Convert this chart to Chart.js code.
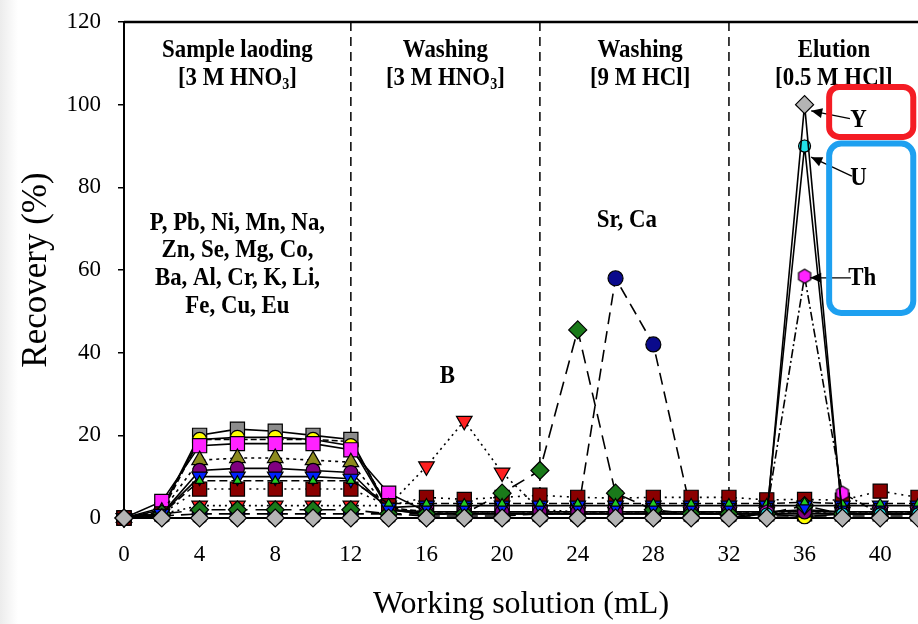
<!DOCTYPE html>
<html>
<head>
<meta charset="utf-8">
<script src="https://cdn.jsdelivr.net/npm/chart.js@4.4.1/dist/chart.umd.min.js"></script>
<style>
  html, body { margin: 0; padding: 0; background: #fff; }
  #caixa { width: 918px; height: 624px; background: linear-gradient(to right, #ececec 0px, #ffffff 18px); }
</style>
</head>
<body>
<div id="caixa"><canvas id="graficoRecuperacao" width="918" height="624"></canvas></div>
<script>
// volume de solução (mL)
const volumes = [0, 2, 4, 6, 8, 10, 12, 14, 16, 18, 20, 22, 24, 26, 28, 30, 32, 34, 36, 38, 40, 42];

// recuperação (%) por elemento / grupo
const recY       = [0, 0, 0, 0, 0, 0, 0, 0, 0, 0, 0, 0, 0, 0, 0, 0, 0, 0, 100, 0, 0, 0];
const recU       = [0, 0, 0, 0, 0, 0, 0, 0, 0, 0, 0, 0, 0, 0, 0, 0, 0, 1, 90, 1, 1, 1];
const recTh      = [0, 0, 0, 0, 0, 0, 0, 0, 0, 0, 0, 0, 0, 0, 0, 0, 0, 1.5, 58.5, 6, 1, 1];
const recMagenta = [0, 4, 17.5, 18, 18, 18, 16.5, 6, 1.5, 1.5, 1.5, 1.5, 1.5, 1.5, 1.5, 1.5, 1.5, 1.5, 2, 1.5, 1.5, 1.5];
const recAmarelo = [0, 2.5, 19, 19.5, 19.5, 19, 17.5, 2, 1, 1, 1, 1, 1, 1, 1, 1, 1, 1, 0.3, 1, 1, 1];
const recCinza   = [0, 2, 20, 21.5, 21, 20, 19, 2, 1, 1, 1, 1, 1, 1, 1, 1, 1, 1, 1, 1, 1, 1];
const recTeal    = [0, 1.5, 19, 19, 19, 19, 18.5, 2.5, 1.5, 1.5, 1.5, 1.5, 1.5, 1.5, 1.5, 1.5, 1.5, 1.5, 1.5, 1.5, 1.5, 1.5];
const recOliva   = [0, 1.5, 14, 14.5, 14.5, 14, 13.5, 2, 1.5, 1.5, 1.5, 1.5, 1.5, 1.5, 1.5, 1.5, 1.5, 1.5, 1.5, 1.5, 1.5, 1.5];
const recRoxo    = [0, 1, 11.5, 12, 12, 11.5, 11, 2, 1.5, 1.5, 1.5, 1.5, 1.5, 1.5, 1.5, 1.5, 1.5, 1.5, 1.5, 1.5, 1.5, 1.5];
const recAzul    = [0, 1, 10, 10, 10, 10, 9.5, 2.5, 3, 3, 3, 3, 3, 3, 3, 3, 3, 3, 3, 3, 3, 3];
const recLima    = [0, 1, 9, 9, 9, 9, 9, 3.5, 3.5, 3.5, 3.5, 3.5, 3.5, 3.5, 3.5, 3.5, 3.5, 3.5, 3.8, 3.5, 3.5, 3.5];
const recGrena   = [0, 1, 7, 7, 7, 7, 7, 3, 5, 4.5, 5, 5.5, 5, 4.8, 5, 5, 5, 4.4, 4.5, 4.3, 6.5, 5];
const recB       = [0, 1, 3, 3, 3, 3, 3, 3, 12.5, 23.5, 11, 2, 1.5, 1.5, 1.5, 1.5, 1.5, 1.5, 1.5, 1.5, 1.5, 1.5];
const recCa      = [0, 1, 2, 2, 2, 2, 2, 1, 1, 1, 6, 11.5, 45.5, 6, 2, 1, 1, 1, 3, 1, 1, 1];
const recSr      = [0, 0.5, 1, 1, 1, 1, 1, 1, 0.5, 0.5, 0.5, 1, 1, 58, 42, 1.5, 0.5, 0.5, 0.5, 0.5, 0.5, 0.5];

const limitesFase = [12, 22, 32];
const ticksY = [0, 20, 40, 60, 80, 100, 120];

const fonteSerif = '"Liberation Serif", "Times New Roman", serif';

// hexágono para o Th
function criarHexagono(raio, cor) {
  const c = document.createElement('canvas');
  c.width = raio * 2 + 4; c.height = raio * 2 + 4;
  const g = c.getContext('2d');
  g.beginPath();
  for (let i = 0; i < 6; i++) {
    const a = Math.PI / 3 * i + Math.PI / 6;
    const px = c.width / 2 + raio * Math.cos(a), py = c.height / 2 + raio * Math.sin(a);
    if (i === 0) g.moveTo(px, py); else g.lineTo(px, py);
  }
  g.closePath();
  g.fillStyle = cor; g.fill();
  g.lineWidth = 1.2; g.strokeStyle = '#000'; g.stroke();
  return c;
}

function serie(rotulo, dados, cor, estilo, raio, tracejado, extra) {
  return Object.assign({
    label: rotulo,
    data: dados.map((v, i) => ({ x: volumes[i], y: v })),
    borderColor: '#000',
    borderWidth: 1.6,
    borderDash: tracejado,
    pointStyle: estilo,
    pointRadius: raio,
    pointHoverRadius: raio,
    pointBackgroundColor: cor,
    pointBorderColor: '#000',
    pointBorderWidth: 1.2,
    tension: 0,
    fill: false,
    clip: false
  }, extra || {});
}

// o primeiro fica por cima
const conjuntos = [
  serie('Y', recY, '#b4b4b4', 'rectRot', 9, []),
  serie('U', recU, '#22e0e8', 'circle', 6, []),
  serie('Th', recTh, '#ff22ff', criarHexagono(7, '#ff22ff'), 7, [9, 3, 2, 3]),
  serie('Grupo lima', recLima, '#22cc22', 'triangle', 5, [8, 4]),
  serie('Grupo azul', recAzul, '#0022ff', 'triangle', 9, [], { rotation: 180 }),
  serie('Ca', recCa, '#1a7a1a', 'rectRot', 9, [14, 8]),
  serie('Grupo grená', recGrena, '#8b0000', 'rect', 10, [2, 5]),
  serie('Grupo roxo', recRoxo, '#800080', 'circle', 7, []),
  serie('Grupo oliva', recOliva, '#8c8a1e', 'triangle', 9, [3, 4]),
  serie('Grupo magenta', recMagenta, '#ff22ff', 'rect', 10, []),
  serie('Grupo amarelo', recAmarelo, '#ffff00', 'circle', 7, []),
  serie('Grupo cinza', recCinza, '#8c8c8c', 'rect', 10, []),
  serie('Grupo teal', recTeal, '#1a8c8c', 'rect', 8, [6, 3]),
  serie('B', recB, '#ff2020', 'triangle', 9, [2, 4], { rotation: 180 }),
  serie('Sr', recSr, '#0a0a8c', 'circle', 7.5, [12, 7])
];

const tamTexto = 26;
const aperto = 0.88; // texto do original é um pouco estreito

function escrever(ctx, texto, cx, cy) {
  ctx.save();
  ctx.translate(cx, cy);
  ctx.scale(aperto, 1);
  ctx.textAlign = 'center';
  ctx.textBaseline = 'middle';
  ctx.font = 'bold ' + tamTexto + 'px ' + fonteSerif;
  ctx.fillText(texto, 0, 0);
  ctx.restore();
}

function textoComIndice(ctx, partes, cx, cy) {
  const normal = 'bold ' + tamTexto + 'px ' + fonteSerif;
  const pequeno = 'bold ' + Math.round(tamTexto * 0.62) + 'px ' + fonteSerif;
  ctx.save();
  ctx.translate(cx, cy);
  ctx.scale(aperto, 1);
  let largura = 0;
  partes.forEach(p => { ctx.font = p[1] ? pequeno : normal; largura += ctx.measureText(p[0]).width; });
  let px = -largura / 2;
  ctx.textAlign = 'left';
  ctx.textBaseline = 'middle';
  partes.forEach(p => {
    ctx.font = p[1] ? pequeno : normal;
    ctx.fillText(p[0], px, p[1] ? tamTexto * 0.28 : 0);
    px += ctx.measureText(p[0]).width;
  });
  ctx.restore();
}

function seta(ctx, x0, y0, x1, y1) {
  ctx.beginPath(); ctx.moveTo(x0, y0); ctx.lineTo(x1, y1); ctx.stroke();
  const ang = Math.atan2(y1 - y0, x1 - x0);
  const L = 11, W = 5;
  ctx.beginPath();
  ctx.moveTo(x1, y1);
  ctx.lineTo(x1 - L * Math.cos(ang) + W * Math.sin(ang), y1 - L * Math.sin(ang) - W * Math.cos(ang));
  ctx.lineTo(x1 - L * Math.cos(ang) - W * Math.sin(ang), y1 - L * Math.sin(ang) + W * Math.cos(ang));
  ctx.closePath(); ctx.fill();
}

function caixaArredondada(ctx, x0, y0, x1, y1, r) {
  ctx.beginPath();
  ctx.roundRect(x0, y0, x1 - x0, y1 - y0, r);
  ctx.stroke();
}

const anotacoes = {
  id: 'anotacoes',
  beforeDatasetsDraw(chart) {
    const { ctx, chartArea, scales: { x } } = chart;
    ctx.save();
    ctx.strokeStyle = '#000';
    ctx.lineWidth = 1.5;
    ctx.setLineDash([9, 6]);
    limitesFase.forEach(v => {
      const px = x.getPixelForValue(v);
      ctx.beginPath(); ctx.moveTo(px, chartArea.top); ctx.lineTo(px, chartArea.bottom); ctx.stroke();
    });
    ctx.setLineDash([]);
    ctx.lineWidth = 2.5;
    ctx.beginPath(); ctx.moveTo(chartArea.left, chartArea.top); ctx.lineTo(chart.width, chartArea.top); ctx.stroke();
    ctx.restore();
  },
  afterDatasetsDraw(chart) {
    const { ctx, scales: { x, y } } = chart;
    const X = v => x.getPixelForValue(v), Y = v => y.getPixelForValue(v);
    ctx.save();
    ctx.fillStyle = '#000';
    ctx.strokeStyle = '#000';

    // cabeçalhos das fases
    escrever(ctx, 'Sample laoding', X(6.0), Y(113.2));
    textoComIndice(ctx, [['[3 M HNO', false], ['3', true], [']', false]], X(6.0), Y(106.5));
    escrever(ctx, 'Washing', X(17.0), Y(113.2));
    textoComIndice(ctx, [['[3 M HNO', false], ['3', true], [']', false]], X(17.0), Y(106.5));
    escrever(ctx, 'Washing', X(27.3), Y(113.2));
    escrever(ctx, '[9 M HCl]', X(27.3), Y(106.5));
    escrever(ctx, 'Elution', X(37.55), Y(113.2));
    escrever(ctx, '[0.5 M HCl]', X(37.55), Y(106.5));

    // grupos de elementos
    ['P, Pb, Ni, Mn, Na,', 'Zn, Se, Mg, Co,', 'Ba, Al, Cr, K, Li,', 'Fe, Cu, Eu'].forEach((t, i) => {
      escrever(ctx, t, X(6.0), Y(71.4 - i * 6.7));
    });
    escrever(ctx, 'Sr, Ca', X(26.6), Y(72.0));
    escrever(ctx, 'B', X(17.1), Y(34.4));

    // rótulos Y, U, Th com setas
    escrever(ctx, 'Y', X(38.85), Y(96.3));
    escrever(ctx, 'U', X(38.85), Y(82.3));
    escrever(ctx, 'Th', X(39.05), Y(58.1));
    ctx.lineWidth = 1.3;
    seta(ctx, X(38.4), Y(96.6), X(36.35), Y(98.5));
    seta(ctx, X(38.5), Y(82.7), X(36.35), Y(87.3));
    seta(ctx, X(38.45), Y(58.1), X(36.3), Y(58.1));

    // caixas coloridas
    ctx.lineWidth = 6;
    ctx.strokeStyle = '#f41c24';
    caixaArredondada(ctx, X(37.3), Y(104.3), X(41.75), Y(92.2), 10);
    ctx.strokeStyle = '#1ea0f0';
    caixaArredondada(ctx, X(37.3), Y(90.6), X(41.75), Y(49.6), 12);
    ctx.restore();
  }
};

const ctx = document.getElementById('graficoRecuperacao').getContext('2d');
const grafico = new Chart(ctx, {
  type: 'line',
  data: { datasets: conjuntos },
  options: {
    responsive: false,
    animation: false,
    devicePixelRatio: 1,
    layout: { autoPadding: false, padding: { top: 22, left: 0, right: 0, bottom: 0 } },
    plugins: { legend: { display: false }, tooltip: { enabled: false } },
    scales: {
      x: {
        type: 'linear',
        min: 0,
        max: 42,
        afterFit: s => { s.height = 106; s.paddingLeft = 0; s.paddingRight = 0; },
        grid: { display: true, drawOnChartArea: false, drawTicks: true, tickLength: 6, color: '#000' },
        border: { display: true, color: '#000', width: 2 },
        ticks: {
          stepSize: 4,
          includeBounds: false,
          padding: 17,
          maxRotation: 0,
          color: '#000',
          font: { family: fonteSerif, size: 23 }
        },
        title: {
          display: true,
          text: 'Working solution (mL)',
          color: '#000',
          font: { family: fonteSerif, size: 32 },
          padding: { top: 0, bottom: 0 }
        }
      },
      y: {
        min: 0,
        max: 120,
        afterFit: s => { s.width = 124; s.paddingTop = 0; s.paddingBottom = 0; },
        afterBuildTicks: s => { s.ticks = ticksY.map(v => ({ value: v })); },
        grid: { display: true, drawOnChartArea: false, drawTicks: true, tickLength: 6, color: '#000', lineWidth: 1.5 },
        border: { display: true, color: '#000', width: 2 },
        ticks: {
          padding: 17,
          color: '#000',
          font: { family: fonteSerif, size: 23 }
        },
        title: {
          display: true,
          text: 'Recovery (%)',
          color: '#000',
          font: { family: fonteSerif, size: 35 },
          padding: { top: 16, bottom: 0 }
        }
      }
    }
  },
  plugins: [anotacoes]
});
</script>
</body>
</html>
